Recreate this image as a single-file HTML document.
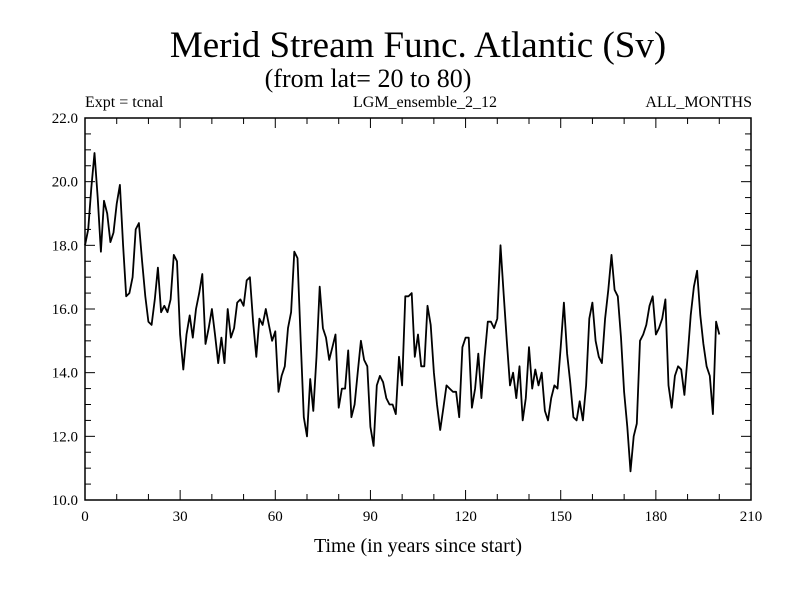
<!DOCTYPE html>
<html><head><meta charset="utf-8"><style>
body{margin:0;background:#fff;}
svg{display:block;font-family:"Liberation Serif",serif;}
</style></head><body>
<svg id="chart" width="800" height="600">
<text x="418" y="57" font-size="37" text-anchor="middle">Merid Stream Func. Atlantic (Sv)</text>
<text x="368" y="87" font-size="26" text-anchor="middle">(from lat= 20 to 80)</text>
<text x="85" y="107" font-size="16">Expt = tcnal</text>
<text x="425" y="107" font-size="16" text-anchor="middle">LGM_ensemble_2_12</text>
<text x="752" y="107" font-size="16" text-anchor="end">ALL_MONTHS</text>
<text x="418" y="552" font-size="20" text-anchor="middle">Time (in years since start)</text>
<g id="axes"></g>
<path id="line" fill="none" stroke="#000" stroke-width="1.8" stroke-linejoin="round"/>
<rect x="85" y="118" width="666" height="382" fill="none" stroke="#000" stroke-width="1.5"/>
</svg>
<script>
const values=[18.0,18.5,19.8,20.9,19.5,17.8,19.4,19.0,18.1,18.4,19.3,19.9,18.0,16.4,16.5,17.0,18.5,18.7,17.5,16.4,15.6,15.5,16.3,17.3,15.9,16.1,15.9,16.3,17.7,17.5,15.2,14.1,15.2,15.8,15.1,16.0,16.5,17.1,14.9,15.4,16.0,15.2,14.3,15.1,14.3,16.0,15.1,15.4,16.2,16.3,16.1,16.9,17.0,15.6,14.5,15.7,15.5,16.0,15.5,15.0,15.3,13.4,13.9,14.2,15.4,15.9,17.8,17.6,15.0,12.6,12.0,13.8,12.8,14.5,16.7,15.4,15.1,14.4,14.8,15.2,12.9,13.5,13.5,14.7,12.6,13.0,14.0,15.0,14.4,14.2,12.3,11.7,13.6,13.9,13.7,13.2,13.0,13.0,12.7,14.5,13.6,16.4,16.4,16.5,14.5,15.2,14.2,14.2,16.1,15.5,14.0,13.0,12.2,12.9,13.6,13.5,13.4,13.4,12.6,14.8,15.1,15.1,12.9,13.5,14.6,13.2,14.5,15.6,15.6,15.4,15.7,18.0,16.5,15.0,13.6,14.0,13.2,14.2,12.5,13.2,14.8,13.5,14.1,13.6,14.0,12.8,12.5,13.2,13.6,13.5,14.8,16.2,14.6,13.7,12.6,12.5,13.1,12.5,13.6,15.7,16.2,15.0,14.5,14.3,15.7,16.6,17.7,16.6,16.4,15.1,13.4,12.3,10.9,12.0,12.4,15.0,15.2,15.5,16.1,16.4,15.2,15.4,15.7,16.3,13.6,12.9,13.9,14.2,14.1,13.3,14.5,15.8,16.7,17.2,15.8,14.9,14.2,13.9,12.7,15.6,15.2];
const xTicks=[0,30,60,90,120,150,180,210];
const yTicks=[10.0,12.0,14.0,16.0,18.0,20.0,22.0];
const X0=85,X1=751,Y0=500,Y1=118,XMIN=0,XMAX=210,YMIN=10,YMAX=22;
const sx=v=>X0+(v-XMIN)/(XMAX-XMIN)*(X1-X0);
const sy=v=>Y0-(v-YMIN)/(YMAX-YMIN)*(Y0-Y1);
const NS="http://www.w3.org/2000/svg";
const g=document.getElementById('axes');
function ln(x1,y1,x2,y2){const l=document.createElementNS(NS,'line');l.setAttribute('x1',x1);l.setAttribute('y1',y1);l.setAttribute('x2',x2);l.setAttribute('y2',y2);l.setAttribute('stroke','#000');l.setAttribute('stroke-width','1');


g.appendChild(l);}
function tx(x,y,s,a){const t=document.createElementNS(NS,'text');t.setAttribute('x',x);t.setAttribute('y',y);t.setAttribute('font-size','15');t.setAttribute('text-anchor',a);t.textContent=s;


g.appendChild(t);}
for(let v=XMIN;v<=XMAX;v+=10){const x=sx(v);const L=(v%30===0)?10:6;ln(x,Y0,x,Y0-L);ln(x,Y1,x,Y1+L);}
for(let v=YMIN;v<=YMAX+0.001;v+=0.5){const y=sy(v);const L=(Math.abs(v-Math.round(v/2)*2)<0.01)?10:6;ln(X0,y,X0+L,y);ln(X1,y,X1-L,y);}
xTicks.forEach(v=>tx(sx(v),521,String(v),'middle'));
yTicks.forEach(v=>tx(X0-7,sy(v)+5,v.toFixed(1),'end'));
document.getElementById('line').setAttribute('d',values.map((v,i)=>(i?'L':'M')+sx(i).toFixed(1)+','+sy(v).toFixed(1)).join(''));
</script>
</body></html>
